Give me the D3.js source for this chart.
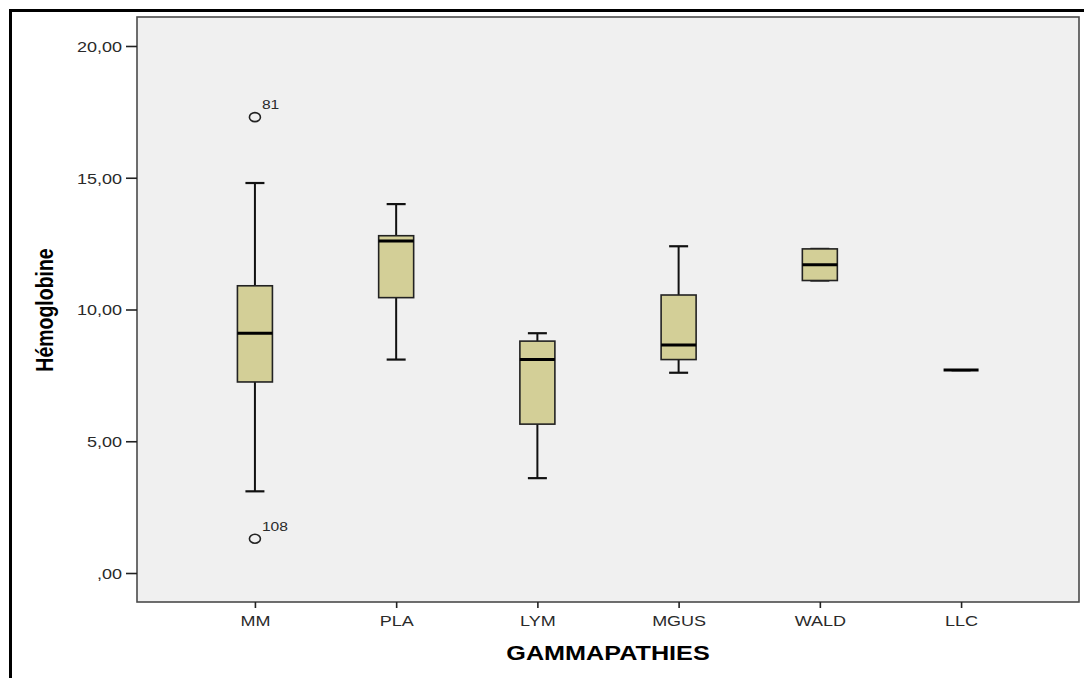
<!DOCTYPE html>
<html>
<head>
<meta charset="utf-8">
<script src="https://cdn.jsdelivr.net/npm/d3@7"></script>
<style>
  body { margin: 0; background: #fff; }
  svg { display: block; font-family: "Liberation Sans", Arial, sans-serif; }
</style>
</head>
<body>
<div id="chart"></div>
<script>
const categories = ['MM', 'PLA', 'LYM', 'MGUS', 'WALD', 'LLC'];
const whiskerLow = [3.1, 8.1, 3.6, 7.6, 11.1, 7.7];
const q1 = [7.25, 10.45, 5.65, 8.1, 11.1, 7.7];
const median = [9.1, 12.6, 8.1, 8.65, 11.7, 7.7];
const q3 = [10.9, 12.8, 8.8, 10.55, 12.3, 7.7];
const whiskerHigh = [14.8, 14.0, 9.1, 12.4, 12.3, 7.7];

const outlierGroups = ['MM', 'MM'];
const outlierValues = [17.3, 1.3];
const outlierIds = ['81', '108'];

const yTicks = [0, 5, 10, 15, 20];

const width = 1084;
const height = 678;

// plot area (the picture is stretched a bit horizontally, hence the 1.2 text scale)
const margin = { top: 17, right: 5, bottom: 76, left: 137 };
const sx = 1.2;

const boxes = categories.map((c, i) => ({
  cat: c, lo: whiskerLow[i], q1: q1[i], med: median[i], q3: q3[i], hi: whiskerHigh[i],
}));
const outliers = outlierValues.map((v, i) => ({ cat: outlierGroups[i], value: v, id: outlierIds[i] }));

const xScale = d3.scalePoint()
  .domain(categories)
  .range([margin.left, width - margin.right])
  .padding(0.835);

const yScale = d3.scaleLinear()
  .domain([-1.1, 21.1])
  .range([height - margin.bottom, margin.top]);

const svg = d3.select('#chart')
  .append('svg')
    .attr('width', width)
    .attr('height', height);

// outer frame, only top and left show
svg.append('rect')
  .attr('x', 10.5).attr('y', 10.5)
  .attr('width', width + 20).attr('height', height + 20)
  .attr('fill', 'none')
  .attr('stroke', '#000')
  .attr('stroke-width', 3);

svg.append('rect')
  .attr('x', margin.left).attr('y', margin.top)
  .attr('width', width - margin.left - margin.right)
  .attr('height', height - margin.top - margin.bottom)
  .attr('fill', '#f0f0f0')
  .attr('stroke', '#4a4a4a')
  .attr('stroke-width', 1.6);

const fmt = d => d === 0 ? ',00' : d3.format('.2f')(d).replace('.', ',');

// y axis
const yAxis = svg.append('g')
  .attr('transform', `translate(${margin.left}, 0)`)
  .call(d3.axisLeft(yScale).tickValues(yTicks).tickSize(11).tickFormat(fmt));
yAxis.select('.domain').remove();
yAxis.selectAll('line').attr('stroke', '#222').attr('stroke-width', 1.6);
yAxis.selectAll('text')
  .attr('x', -15 / sx)
  .attr('dy', '0.36em')
  .attr('transform', `scale(${sx},1)`)
  .attr('fill', '#2a2a2a')
  .style('font-size', '15px');

// x axis
const xAxis = svg.append('g')
  .attr('transform', `translate(0, ${height - margin.bottom})`)
  .call(d3.axisBottom(xScale).tickSize(6));
xAxis.select('.domain').remove();
xAxis.selectAll('line').attr('stroke', '#222').attr('stroke-width', 1.6);
xAxis.selectAll('text')
  .attr('y', 24)
  .attr('dy', 0)
  .attr('transform', `scale(${sx},1)`)
  .attr('fill', '#2a2a2a')
  .style('font-size', '15px');

// titles
svg.append('text')
  .attr('transform', `translate(${608}, ${660}) scale(${sx},1)`)
  .attr('text-anchor', 'middle')
  .style('font-size', '21px')
  .style('font-weight', 'bold')
  .text('GAMMAPATHIES');

svg.append('text')
  .attr('transform', `translate(${53}, ${310}) scale(${sx},1) rotate(-90)`)
  .attr('text-anchor', 'middle')
  .style('font-size', '19.5px')
  .style('font-weight', 'bold')
  .text('Hémoglobine');

const boxW = 35;
const capW = 19;

const g = svg.selectAll('.box')
  .data(boxes)
  .enter().append('g')
    .attr('class', 'box')
    .attr('transform', d => `translate(${xScale(d.cat)}, 0)`);

// whiskers
g.append('line')
  .attr('y1', d => yScale(d.hi)).attr('y2', d => yScale(d.q3))
  .attr('stroke', '#111').attr('stroke-width', 2);
g.append('line')
  .attr('y1', d => yScale(d.q1)).attr('y2', d => yScale(d.lo))
  .attr('stroke', '#111').attr('stroke-width', 2);
g.append('line')
  .attr('x1', -capW / 2).attr('x2', capW / 2)
  .attr('y1', d => yScale(d.hi)).attr('y2', d => yScale(d.hi))
  .attr('stroke', '#111').attr('stroke-width', 2.2);
g.append('line')
  .attr('x1', -capW / 2).attr('x2', capW / 2)
  .attr('y1', d => yScale(d.lo)).attr('y2', d => yScale(d.lo))
  .attr('stroke', '#111').attr('stroke-width', 2.2);

g.append('rect')
  .attr('x', -boxW / 2)
  .attr('y', d => yScale(d.q3))
  .attr('width', boxW)
  .attr('height', d => yScale(d.q1) - yScale(d.q3))
  .attr('fill', '#d3cf97')
  .attr('stroke', '#222')
  .attr('stroke-width', 1.6);

g.append('line')
  .attr('x1', -boxW / 2).attr('x2', boxW / 2)
  .attr('y1', d => yScale(d.med)).attr('y2', d => yScale(d.med))
  .attr('stroke', '#000').attr('stroke-width', 3);

// outliers
const o = svg.selectAll('.outlier')
  .data(outliers)
  .enter().append('g')
    .attr('class', 'outlier')
    .attr('transform', d => `translate(${xScale(d.cat)}, ${yScale(d.value)})`);

o.append('ellipse')
  .attr('rx', 5.5).attr('ry', 4.5)
  .attr('fill', 'none')
  .attr('stroke', '#222')
  .attr('stroke-width', 1.6);

o.append('text')
  .attr('transform', `translate(7, -8) scale(${sx},1)`)
  .attr('fill', '#2a2a2a')
  .style('font-size', '13px')
  .text(d => d.id);
</script>
</body>
</html>
